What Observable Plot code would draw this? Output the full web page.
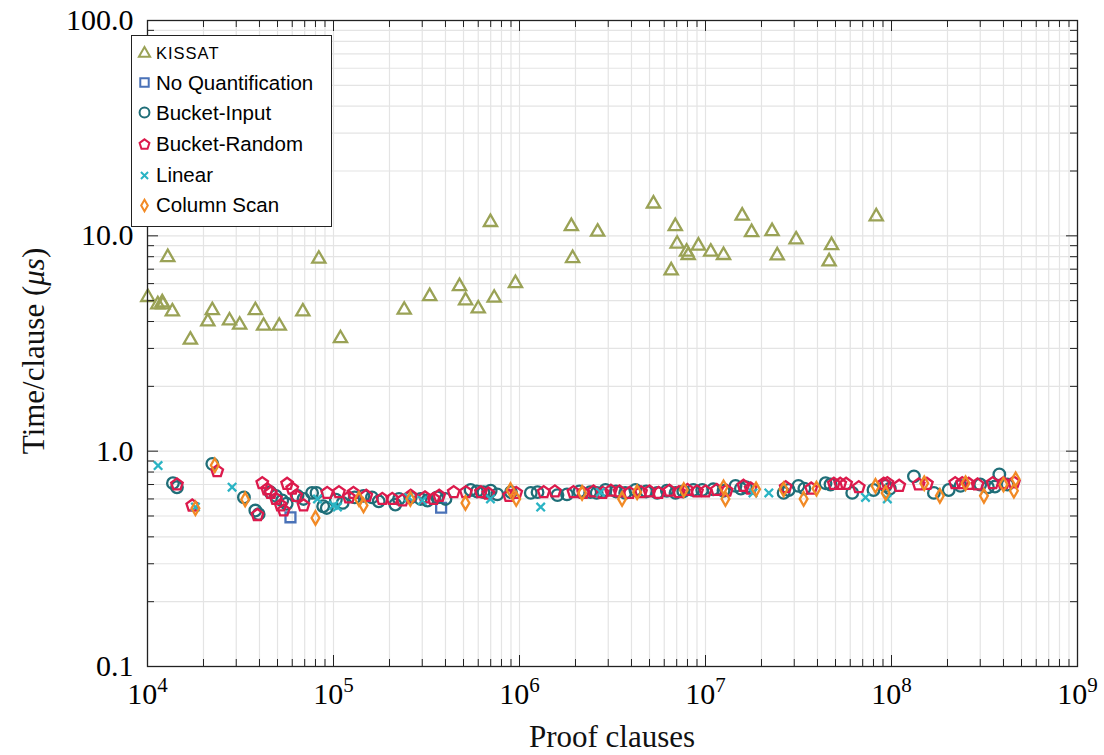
<!DOCTYPE html>
<html><head><meta charset="utf-8">
<script src="https://cdn.jsdelivr.net/npm/d3@7"></script>
<script src="https://cdn.jsdelivr.net/npm/@observablehq/plot@0.6"></script>
<style>
body{margin:0;background:#fff;}
#wrap{position:relative;width:1104px;height:755px;}
#legend{position:absolute;left:131px;top:35px;width:199px;height:190px;border:1.5px solid #222;background:#fff;font-family:"Liberation Sans",Arial,sans-serif;font-size:20.5px;color:#000;}
.row{position:absolute;left:0;height:30px;display:flex;align-items:center;white-space:nowrap;}
.row svg{margin-left:4px;margin-right:3px;}
</style></head>
<body><div id="wrap"><div id="chart"></div><div id="legend"></div></div>
<script>
// ---- data: [proof clauses, time per clause (µs)] ----
const seriesNames = ["KISSAT","No Quantification","Bucket-Input","Bucket-Random","Linear","Column Scan"];

const kissat = [
 [1.285e4,7.95],[1.004e4,5.19],[1.136e4,4.80],[1.20e4,4.90],[1.21e4,4.80],[1.36e4,4.45],[1.70e4,3.29],
 [2.11e4,4.0],[2.23e4,4.51],[2.76e4,4.04],[3.13e4,3.86],[3.80e4,4.51],[4.21e4,3.82],[5.11e4,3.82],
 [6.84e4,4.45],[8.34e4,7.82],[1.09e5,3.34],[2.40e5,4.53],[3.29e5,5.24],[4.76e5,5.83],[5.13e5,5.01],
 [6.0e5,4.59],[6.98e5,11.57],[7.31e5,5.15],[9.51e5,6.02],[1.90e6,11.08],[1.93e6,7.87],[2.63e6,10.44],
 [5.25e6,14.1],[6.54e6,6.90],[6.88e6,11.08],[7.04e6,9.18],[7.91e6,8.43],[8.07e6,8.13],[9.16e6,8.99],
 [1.067e7,8.43],[1.25e7,8.13],[1.575e7,12.39],[1.77e7,10.39],[2.28e7,10.5],[2.43e7,8.1],[3.07e7,9.61],
 [4.76e7,9.04],[4.62e7,7.6],[8.28e7,12.3]
];

const noQuantification = [[5.87e4,0.493],[3.79e5,0.546]];

const bucketInput = [
 [1.37e4,0.71],[1.44e4,0.68],[2.23e4,0.873],[3.3e4,0.61],[3.8e4,0.53],[3.96e4,0.51],[4.58e4,0.644],
 [4.9e4,0.62],[5.3e4,0.59],[5.6e4,0.57],[6.4e4,0.62],[6.9e4,0.6],[7.67e4,0.64],[8.1e4,0.64],[8.8e4,0.555],
 [9.2e4,0.545],[1.03e5,0.595],[1.12e5,0.575],[1.3e5,0.61],[1.45e5,0.62],[1.61e5,0.61],[1.75e5,0.585],
 [2.15e5,0.565],[2.25e5,0.6],[2.6e5,0.61],[2.94e5,0.6],[3.2e5,0.59],[3.61e5,0.61],[4.0e5,0.6],
 [5.46e5,0.66],[5.9e5,0.65],[6.4e5,0.645],[7.0e5,0.655],[7.6e5,0.63],[9.0e5,0.645],[1.15e6,0.64],
 [1.25e6,0.645],[1.6e6,0.625],[1.8e6,0.63],[2.1e6,0.65],[2.4e6,0.645],[2.6e6,0.64],[2.9e6,0.66],
 [3.3e6,0.65],[3.7e6,0.64],[4.2e6,0.66],[4.8e6,0.65],[5.5e6,0.64],[6.2e6,0.655],[6.9e6,0.64],
 [7.6e6,0.65],[8.6e6,0.66],[9.6e6,0.66],[1.1e7,0.665],[1.25e7,0.655],[1.45e7,0.69],[1.55e7,0.67],
 [1.65e7,0.68],[2.63e7,0.64],[2.8e7,0.66],[3.16e7,0.69],[3.4e7,0.67],[4.42e7,0.71],[4.7e7,0.7],
 [6.15e7,0.64],[8.0e7,0.66],[9.3e7,0.69],[9.8e7,0.67],[1.32e8,0.764],[1.69e8,0.64],[2.03e8,0.66],
 [2.35e8,0.69],[3.0e8,0.7],[3.3e8,0.68],[3.6e8,0.685],[3.8e8,0.78],[4.2e8,0.7]
];

const bucketRandom = [
 [1.44e4,0.70],[1.74e4,0.559],[2.37e4,0.807],[3.9e4,0.505],[4.14e4,0.71],[4.4e4,0.665],[4.6e4,0.64],
 [4.9e4,0.60],[5.2e4,0.56],[5.4e4,0.53],[5.63e4,0.705],[6.0e4,0.67],[6.3e4,0.62],[6.9e4,0.56],
 [9.25e4,0.64],[1.07e5,0.645],[1.21e5,0.61],[1.28e5,0.64],[1.5e5,0.62],[1.83e5,0.60],[2.07e5,0.60],
 [2.35e5,0.59],[2.6e5,0.62],[3.1e5,0.61],[3.45e5,0.60],[3.7e5,0.62],[4.43e5,0.645],[5.15e5,0.645],
 [6.2e5,0.645],[6.8e5,0.635],[8.8e5,0.62],[9.6e5,0.64],[1.35e6,0.645],[1.55e6,0.65],[1.95e6,0.645],
 [2.2e6,0.64],[2.5e6,0.65],[2.8e6,0.64],[3.1e6,0.655],[3.45e6,0.65],[3.9e6,0.64],[4.5e6,0.645],
 [5.0e6,0.65],[5.6e6,0.64],[6.4e6,0.655],[7.2e6,0.645],[8.0e6,0.66],[9.0e6,0.65],[1.0e7,0.65],
 [1.15e7,0.66],[1.3e7,0.655],[1.6e7,0.69],[1.75e7,0.67],[2.7e7,0.68],[3.7e7,0.67],[4.9e7,0.705],
 [5.3e7,0.705],[5.7e7,0.705],[6.67e7,0.68],[9.08e7,0.705],[9.5e7,0.71],[1.1e8,0.69],[1.4e8,0.70],
 [1.55e8,0.705],[2.2e8,0.71],[2.4e8,0.71],[2.6e8,0.705],[2.9e8,0.70],[3.5e8,0.71],[4.0e8,0.71],[4.55e8,0.715]
];

const linear = [
 [1.14e4,0.857],[1.81e4,0.55],[2.85e4,0.68],[8.2e4,0.60],[1.0e5,0.56],[1.05e5,0.55],[2.54e5,0.61],
 [3.0e5,0.59],[6.98e5,0.60],[1.3e6,0.55],[2.72e6,0.645],[1.80e7,0.64],[2.19e7,0.64],[7.25e7,0.61],[9.5e7,0.60]
];

const columnScan = [
 [1.81e4,0.543],[2.3e4,0.86],[3.35e4,0.597],[8.0e4,0.49],[1.37e5,0.60],[1.45e5,0.56],[2.59e5,0.60],
 [5.12e5,0.575],[8.95e5,0.66],[9.6e5,0.60],[2.17e6,0.64],[3.56e6,0.60],[4.29e6,0.645],[7.64e6,0.66],
 [1.25e7,0.68],[1.28e7,0.60],[1.87e7,0.665],[2.63e7,0.665],[3.37e7,0.60],[3.95e7,0.67],[8.2e7,0.69],
 [9.3e7,0.64],[1.5e8,0.71],[1.82e8,0.62],[2.5e8,0.71],[3.14e8,0.62],[4.0e8,0.70],[4.65e8,0.74],[4.55e8,0.655]
];

const xMajor = [1e4,1e5,1e6,1e7,1e8,1e9];
const yMajor = [0.1,1,10,100];
const yTickLabels = ["0.1","1.0","10.0","100.0"];
const xLabel = "Proof clauses";

// ---- styling ----
const pentagon = {draw(ctx, size){
  const R = Math.sqrt(size/2.3776);
  for (let i=0;i<5;i++){const a=-Math.PI/2+i*2*Math.PI/5;const px=R*Math.cos(a),py=R*Math.sin(a);i?ctx.lineTo(px,py):ctx.moveTo(px,py);}
  ctx.closePath();
}};
const styles = [
  {data:kissat, color:"#9aa256", symbol:d3.symbolTriangle, r:4.9},
  {data:noQuantification, color:"#4a72b8", symbol:d3.symbolSquare, r:5.6},
  {data:bucketInput, color:"#1f6e78", symbol:"circle", r:5.8},
  {data:bucketRandom, color:"#dc1a4c", symbol:pentagon, r:5.3},
  {data:linear, color:"#2ab4c4", symbol:d3.symbolTimes, r:3.9},
  {data:columnScan, color:"#f28a25", symbol:d3.symbolDiamond, r:4.1}
];

const W=1104,H=755,mL=147,mR=27,mT=20,mB=89;
const pW=W-mL-mR, pH=H-mT-mB;
const xMinor = xMajor.slice(0,-1).flatMap(d=>d3.range(2,10).map(k=>k*d));
const yMinor = yMajor.slice(0,-1).flatMap(d=>d3.range(2,10).map(k=>k*d));
const grid="#e4e4e4";
const serif='"Liberation Serif","Times New Roman",serif';

const chart = Plot.plot({
  width:W, height:H, marginLeft:mL, marginRight:mR, marginTop:mT, marginBottom:mB,
  style:{background:"#fff", fontFamily:serif, overflow:"visible"},
  x:{type:"log", domain:[1e4,1e9]},
  y:{type:"log", domain:[0.1,100]},
  marks:[
    Plot.ruleX(xMinor,{x:d=>d, stroke:grid, strokeWidth:1.2}),
    Plot.ruleX(xMajor,{x:d=>d, stroke:grid, strokeWidth:1.2}),
    Plot.ruleY(yMinor,{y:d=>d, stroke:grid, strokeWidth:1.2}),
    Plot.ruleY(yMajor,{y:d=>d, stroke:grid, strokeWidth:1.2}),
    ...styles.map(s=>Plot.dot(s.data,{x:d=>d[0], y:d=>d[1], symbol:s.symbol, r:s.r, stroke:s.color, strokeWidth:2.3, fill:"none"})),
    Plot.tickX(xMajor,{x:d=>d, stroke:"#222", insetTop:pH-11}),
    Plot.tickX(xMajor,{x:d=>d, stroke:"#222", insetBottom:pH-11}),
    Plot.tickX(xMinor,{x:d=>d, stroke:"#222", insetTop:pH-7}),
    Plot.tickX(xMinor,{x:d=>d, stroke:"#222", insetBottom:pH-7}),
    Plot.tickY(yMajor,{y:d=>d, stroke:"#222", insetRight:pW-11}),
    Plot.tickY(yMajor,{y:d=>d, stroke:"#222", insetLeft:pW-11}),
    Plot.tickY(yMinor,{y:d=>d, stroke:"#222", insetRight:pW-7}),
    Plot.tickY(yMinor,{y:d=>d, stroke:"#222", insetLeft:pW-7}),
    Plot.frame({stroke:"#222", strokeWidth:1.3}),
    Plot.axisX(xMajor,{tickSize:0, tickPadding:16, fontSize:30, fontFamily:serif, label:null,
      tickFormat:d=>"10^"+Math.round(Math.log10(d))}),
    Plot.axisY(yMajor,{tickSize:0, tickPadding:14, fontSize:30, fontFamily:serif, label:null,
      tickFormat:d=>yTickLabels[yMajor.indexOf(d)]})
  ]
});
document.getElementById("chart").appendChild(chart);
const svg = d3.select(chart);
svg.selectAll('g[aria-label="x-axis tick label"] text').each(function(){
  const [b,e] = this.textContent.split("^");
  const t = d3.select(this); t.text("");
  t.append("tspan").text(b);
  t.append("tspan").attr("font-size",21).attr("dy","-0.55em").text(e);
});
svg.append("text").attr("x",(mL+W-mR)/2).attr("y",747).attr("text-anchor","middle")
  .attr("font-family",serif).attr("font-size",31).attr("fill","#111").text(xLabel);
const yl = svg.append("text").attr("transform",`translate(44,${(mT+H-mB)/2+8}) rotate(-90)`)
  .attr("text-anchor","middle").attr("font-family",serif).attr("font-size",31).attr("fill","#111");
yl.append("tspan").text("Time/clause (");
yl.append("tspan").attr("font-style","italic").text("μs");
yl.append("tspan").text(")");

// ---- legend ----
const leg = d3.select("#legend");
const rowCenters = [17.5, 46.5, 76.5, 108, 139, 169];
seriesNames.forEach((name,i)=>{
  const s = styles[i];
  const row = leg.append("div").attr("class","row").style("top",(rowCenters[i]-15)+"px");
  const sv = row.append("svg").attr("width",17).attr("height",17);
  const sym = s.symbol==="circle"? d3.symbolCircle : s.symbol;
  sv.append("path").attr("transform","translate(8.5,8.5)")
    .attr("d", d3.symbol(sym, Math.PI*(s.r*0.85)**2)())
    .attr("fill","none").attr("stroke",s.color).attr("stroke-width",2);
  const sp = row.append("span").text(name);
  if(i===0) sp.style("font-size","16.5px").style("letter-spacing","1px");
});
</script></body></html>
